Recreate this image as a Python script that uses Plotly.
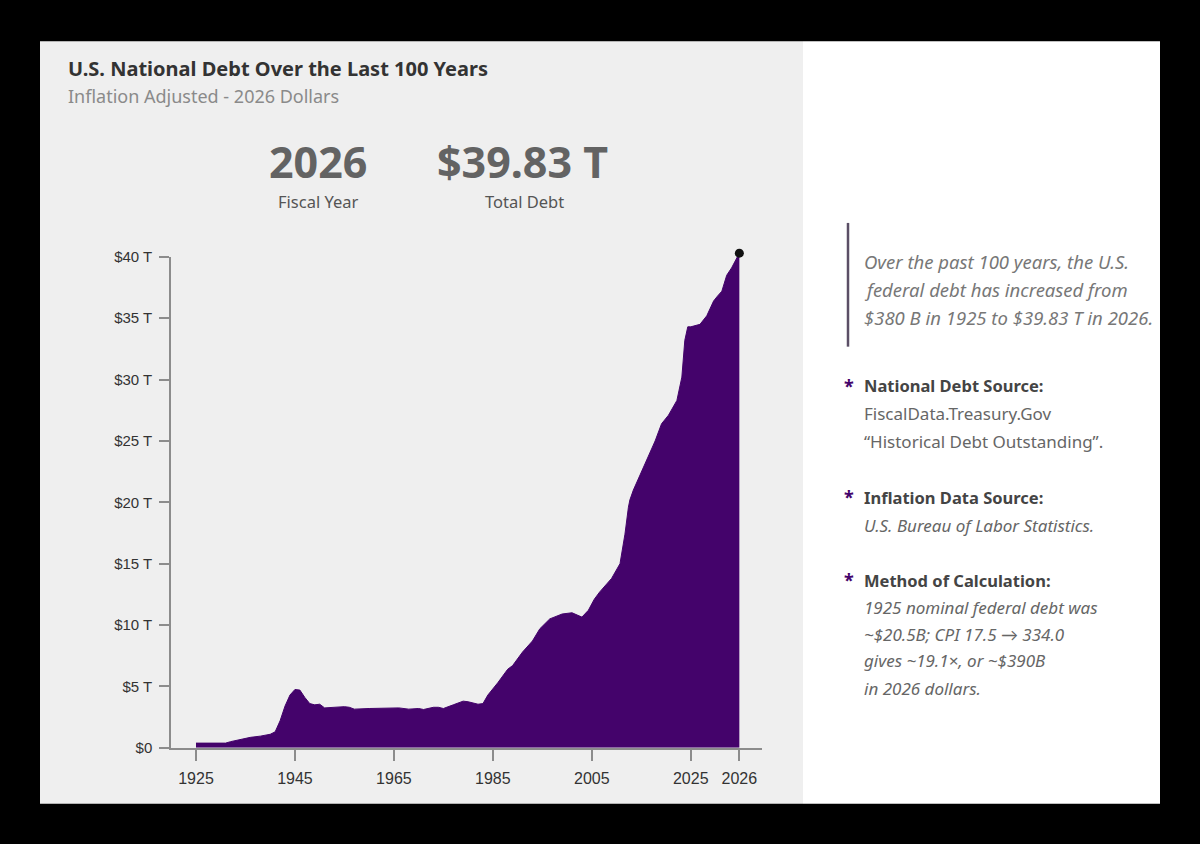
import plotly.graph_objects as go

# -----------------------------------------------------------------------------
# Data – debt in trillions of 2026 dollars
# -----------------------------------------------------------------------------
years = [
    1925, 1929, 1931, 1932, 1934, 1936, 1938, 1940, 1941, 1942,
    1943, 1944, 1945, 1946, 1947, 1948, 1949, 1950, 1951, 1953,
    1955, 1956, 1957, 1960, 1963, 1966, 1968, 1970, 1971, 1973,
    1974, 1975, 1977, 1979, 1980, 1982, 1983, 1984, 1986, 1988,
    1989, 1991, 1993, 1994.5, 1996.5, 1999, 2001, 2003, 2004.3, 2005.5,
    2006.6, 2008, 2009, 2010.7, 2011.7, 2012.4, 2012.7, 2013.4, 2015.1, 2016.8,
    2017.8, 2019.1, 2020.5, 2022.2, 2023.2, 2023.8, 2024.4, 2025.0, 2025.19, 2025.33,
    2025.47, 2025.55, 2025.64, 2025.74, 2025.84, 2026.0,
]
debt_t = [
    0.38, 0.35, 0.38, 0.5, 0.7, 0.85, 0.95, 1.1, 1.3, 2.2,
    3.4, 4.3, 4.75, 4.7, 4.1, 3.6, 3.5, 3.55, 3.25, 3.3,
    3.35, 3.3, 3.15, 3.2, 3.25, 3.25, 3.15, 3.2, 3.12, 3.3,
    3.3, 3.2, 3.5, 3.8, 3.75, 3.55, 3.6, 4.3, 5.3, 6.4,
    6.7, 7.8, 8.7, 9.7, 10.5, 10.9, 11.0, 10.65, 11.2, 12.1,
    12.7, 13.3, 13.8, 15.0, 17.4, 19.6, 20.2, 21.0, 22.6, 24.2,
    25.0, 26.4, 27.1, 28.3, 30.2, 33.2, 34.3, 34.3, 34.5, 35.2,
    36.4, 36.8, 37.2, 38.5, 39.1, 40.3,
]

x_ticks = [1925, 1945, 1965, 1985, 2005, 2025, 2026]
y_ticks = [0, 5, 10, 15, 20, 25, 30, 35, 40]
y_labels = ["$0", "$5 T", "$10 T", "$15 T", "$20 T", "$25 T", "$30 T", "$35 T", "$40 T"]

PURPLE = "#44036b"
W, H = 1200, 844
Y0, Y40 = 748, 256          # pixel rows of $0 and $40 T
PX_PER_T = (Y0 - Y40) / 40


def axis_pos(year):
    """Broken x scale: the final year (2025 -> 2026) is stretched ~10x."""
    return year if year <= 2025 else 2025 + (year - 2025) * 9.82


def px(x):
    return x / W


def py(y):
    # the capture shifts the page down ~7.6px and squeezes it by ~0.982
    return 1 - ((y - 7.6) / 0.982) / H


xs = [axis_pos(y) for y in years]

fig = go.Figure()
fig.add_trace(
    go.Scatter(
        x=xs,
        y=debt_t,
        mode="lines",
        line=dict(color=PURPLE, width=1),
        fill="tozeroy",
        fillcolor=PURPLE,
        hoverinfo="skip",
        showlegend=False,
    )
)
# end-point dot sits just above the $40 T tick, so it lives on a hidden twin
# axis with the same scale but a little more headroom
fig.add_trace(
    go.Scatter(
        x=[xs[-1]],
        y=[debt_t[-1]],
        yaxis="y2",
        mode="markers",
        marker=dict(color="#111111", size=9),
        cliponaxis=False,
        hoverinfo="skip",
        showlegend=False,
    )
)

axis_style = dict(
    showline=True,
    linecolor="#8c8c8c",
    linewidth=1.5,
    showgrid=False,
    zeroline=False,
    ticks="outside",
    tickcolor="#8c8c8c",
    tickwidth=1.5,
)

fig.update_layout(
    width=W,
    height=H,
    margin=dict(l=0, r=0, t=0, b=0),
    paper_bgcolor="#000000",
    plot_bgcolor="rgba(0,0,0,0)",
    xaxis=dict(
        axis_style,
        domain=[px(171), px(762)],
        range=[1919.95, 2039.4],
        tickvals=[axis_pos(y) for y in x_ticks],
        ticktext=[str(y) for y in x_ticks],
        ticklen=11,
        ticklabelstandoff=4,
        tickfont=dict(family="Liberation Sans, Arial", size=16, color="#333333"),
    ),
    yaxis=dict(
        axis_style,
        domain=[py(Y0), py(Y40)],
        range=[0, 40],
        tickvals=y_ticks,
        ticktext=y_labels,
        ticklen=10,
        ticklabelstandoff=4,
        tickfont=dict(family="Liberation Sans, Arial", size=15, color="#333333"),
    ),
    yaxis2=dict(
        domain=[py(Y0), py(Y40 - 2 * PX_PER_T)],
        range=[0, 42],
        anchor="x",
        visible=False,
        showgrid=False,
        zeroline=False,
    ),
    shapes=[
        dict(type="rect", xref="paper", yref="paper", layer="below",
             x0=px(40), x1=px(803), y0=py(804), y1=py(40),
             fillcolor="#efefef", line=dict(width=0)),
        dict(type="rect", xref="paper", yref="paper", layer="below",
             x0=px(803), x1=px(1160), y0=py(804), y1=py(40),
             fillcolor="#ffffff", line=dict(width=0)),
        dict(type="line", xref="paper", yref="paper",
             x0=px(848), x1=px(848), y0=py(222), y1=py(346),
             line=dict(color="#5b4f66", width=2.5)),
    ],
)

HEAD = "Noto Sans, Lato, sans-serif"
notes = [
    # (x, y, text, size, color, anchor)
    (66, 67, "<b>U.S. National Debt Over the Last 100 Years</b>", 20, "#333333", "left"),
    (66, 95, "Inflation Adjusted - 2026 Dollars", 18, "#8a8a8a", "left"),
    (318, 160, "<b>2026</b>", 43, "#636363", "center"),
    (522, 160, "<b>$39.83 T</b>", 43, "#636363", "center"),
    (318, 201, "Fiscal Year", 16.5, "#555555", "center"),
    (524, 201, "Total Debt", 16.5, "#555555", "center"),
    (862, 261, "<i>Over the past 100 years, the U.S.</i>", 18.5, "#777777", "left"),
    (862, 289, "<i>federal debt has increased from</i>", 18.5, "#777777", "left"),
    (862, 317, "<i>$380 B in 1925 to $39.83 T in 2026.</i>", 18.5, "#777777", "left"),
    (862, 385, "<b>National Debt Source:</b>", 16.5, "#444444", "left"),
    (862, 413, "FiscalData.Treasury.Gov", 17, "#666666", "left"),
    (862, 441, "\u201cHistorical Debt Outstanding\u201d.", 17, "#666666", "left"),
    (862, 497, "<b>Inflation Data Source:</b>", 16.5, "#444444", "left"),
    (862, 525, "<i>U.S. Bureau of Labor Statistics.</i>", 17, "#666666", "left"),
    (862, 580, "<b>Method of Calculation:</b>", 16.5, "#444444", "left"),
    (862, 607, "<i>1925 nominal federal debt was</i>", 17, "#666666", "left"),
    (862, 634, "<i>~$20.5B; CPI 17.5 \u2192 334.0</i>", 17, "#666666", "left"),
    (862, 661, "<i>gives ~19.1\u00d7, or ~$390B</i>", 17, "#666666", "left"),
    (862, 689, "<i>in 2026 dollars.</i>", 17, "#666666", "left"),
]
for x, y, text, size, color, anchor in notes:
    fig.add_annotation(
        x=px(x), y=py(y), xref="paper", yref="paper",
        text=text, showarrow=False,
        xanchor=anchor, yanchor="middle",
        font=dict(family=HEAD, size=size, color=color),
    )

# purple bullet stars
for y in [385, 497, 580]:
    fig.add_annotation(
        x=px(849), y=py(y), xref="paper", yref="paper",
        text="<b>*</b>", showarrow=False,
        xanchor="center", yanchor="middle",
        font=dict(family=HEAD, size=18, color=PURPLE),
    )

# pin the graph to the window so the page is exactly one figure in size
pin = (
    "document.body.style.margin='0';"
    "document.body.style.background='#000';"
    "document.documentElement.style.overflow='hidden';"
    "var g=document.getElementById('{plot_id}');"
    "g.style.position='fixed';g.style.top='0';g.style.left='0';"
)
fig.write_html("out.html", post_script=pin, config={"displayModeBar": False})
